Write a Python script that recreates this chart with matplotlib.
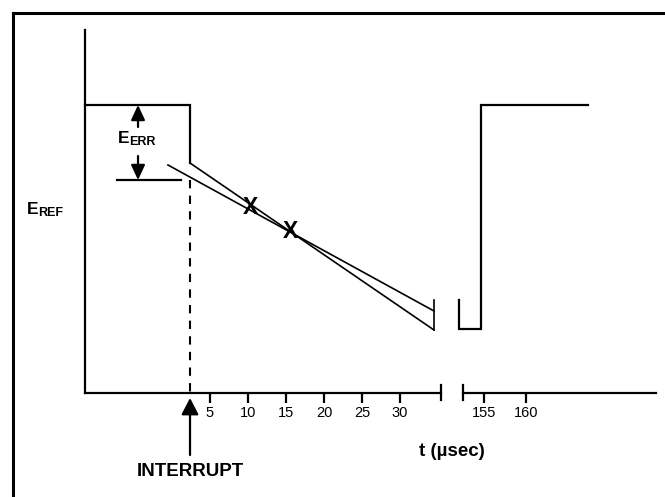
import matplotlib
matplotlib.use("Agg")
import matplotlib.pyplot as plt
from matplotlib.lines import Line2D

plt.rcParams['font.family'] = ['Liberation Sans', 'DejaVu Sans']

# ---------------- data (time in µs, level in arbitrary volts) ----------------
tick_left = [5, 10, 15, 20, 25, 30]
tick_right = [155, 160]
ref_level = 2.88          # E_REF plateau
interrupt_t = 2.37        # time of interrupt
step_low = 2.30           # level right after interrupt
decay_end_t = 34.47
decay_end_v = 0.63        # true decay end
fit_start_t = -0.53
fit_start_v = 2.28
fit_end_v = 0.82          # linear-fit line end
cap_top_v = 0.93
sample_t = [10.26, 15.53]
sample_v = [1.85, 1.61]
err_line_t = [-7.24, 1.18]
err_low = 2.13
right_t = [152.02, 152.02, 154.64, 154.64, 167.38]
right_v = [0.93, 0.64, 0.64, ref_level, ref_level]
axis_left_t = -11.4
axis_top_v = 3.63
axis_break_t = 35.4
axis_right_start = 152.5
axis_right_end = 175.48

W, H = 665, 497
fig = plt.figure(figsize=(W / 100, H / 100), dpi=100)
fig.patch.set_facecolor('white')

split = 452
ax1 = fig.add_axes([0, 0, split / W, 1])
ax2 = fig.add_axes([split / W, 0, 1 - split / W, 1])
ax1.set_xlim(-22.63, 36.84)
ax2.set_xlim(151.19, 176.55)
for ax in (ax1, ax2):
    ax.set_ylim(-1.04, 3.93)
    ax.patch.set_alpha(0)
    for s in ('top', 'right'):
        ax.spines[s].set_visible(False)
    ax.set_yticks([])
    ax.spines['bottom'].set_position(('data', 0))
    ax.spines['bottom'].set_linewidth(1.6)
    ax.tick_params(axis='x', direction='out', length=7, width=1.6, pad=2.5,
                   labelsize=10.5)

ax1.spines['left'].set_position(('data', axis_left_t))
ax1.spines['left'].set_bounds(0, axis_top_v)
ax1.spines['left'].set_linewidth(1.6)
ax1.spines['bottom'].set_bounds(axis_left_t, axis_break_t)
ax1.set_xticks(tick_left)
ax1.set_xticklabels([str(t) for t in tick_left])

ax2.spines['left'].set_visible(False)
ax2.spines['bottom'].set_bounds(axis_right_start, axis_right_end)
ax2.set_xticks(tick_right)
ax2.set_xticklabels([str(t) for t in tick_right])

lw = 1.6
# break marks
ax1.plot([axis_break_t, axis_break_t], [0.08, -0.07], color='black', lw=lw)
ax2.plot([axis_right_start, axis_right_start], [0.08, -0.07], color='black', lw=lw)

# E_REF plateau and step
ax1.plot([axis_left_t, interrupt_t, interrupt_t], [ref_level, ref_level, step_low],
         color='black', lw=lw, solid_joinstyle='miter')
# true decay line
ax1.plot([interrupt_t, decay_end_t], [step_low, decay_end_v], color='black', lw=1.2)
# linear fit line
ax1.plot([fit_start_t, decay_end_t], [fit_start_v, fit_end_v], color='black', lw=1.2)
# end cap
ax1.plot([decay_end_t, decay_end_t], [cap_top_v, decay_end_v], color='black', lw=1.2)
# sample points
for t, v in zip(sample_t, sample_v):
    ax1.text(t, v, 'X', fontsize=16.5, fontweight='bold', ha='center', va='center')

# error bracket line
ax1.plot(err_line_t, [err_low, err_low], color='black', lw=lw)
# dashed interrupt line
ax1.plot([interrupt_t, interrupt_t], [err_low, 0], color='black', lw=1.5,
         dashes=(4, 3.5))

# E_ERR arrows
arr_t = -4.47
ax1.annotate('', xy=(arr_t, ref_level), xytext=(arr_t, 2.66),
             arrowprops=dict(arrowstyle='-|>,head_length=9,head_width=4.2',
                             mutation_scale=1, color='black', lw=lw,
                             shrinkA=0, shrinkB=0))
ax1.annotate('', xy=(arr_t, err_low), xytext=(arr_t, 2.37),
             arrowprops=dict(arrowstyle='-|>,head_length=9,head_width=4.2',
                             mutation_scale=1, color='black', lw=lw,
                             shrinkA=0, shrinkB=0))

# interrupt arrow
ax1.annotate('', xy=(interrupt_t, -0.05), xytext=(interrupt_t, -0.62),
             arrowprops=dict(arrowstyle='-|>,head_length=10,head_width=5.2',
                             mutation_scale=1, color='black', lw=lw,
                             shrinkA=0, shrinkB=0))

# right-hand segment
ax2.plot(right_t, right_v, color='black', lw=lw, solid_joinstyle='miter')

# labels with subscripts
def sub_label(ax, x, y, main, sub):
    m = ax.text(x, y, main, fontsize=12.5, fontweight='bold', ha='left', va='baseline')
    ax.annotate(sub, xy=(1, 0), xycoords=m, xytext=(-0.6, 1.0),
                textcoords='offset points', fontsize=9, fontweight='bold',
                ha='left', va='baseline')

sub_label(ax1, -19.08, 1.79, 'E', 'REF')
sub_label(ax1, -7.1, 2.497, 'E', 'ERR')

ax1.text(interrupt_t, -0.79, 'INTERRUPT', fontsize=13.5, fontweight='bold',
         ha='center', va='center')
ax1.text(36.8, -0.58, 't (µsec)', fontsize=13.5, fontweight='bold',
         ha='center', va='center')

# outer frame (open at right and bottom)
fig.add_artist(Line2D([13 / W, 13 / W, 1.0], [0.0, 1 - 13 / H, 1 - 13 / H],
                      transform=fig.transFigure, color='black', lw=2.2,
                      solid_joinstyle='miter'))

fig.savefig('out.png', dpi=100, facecolor='white')
